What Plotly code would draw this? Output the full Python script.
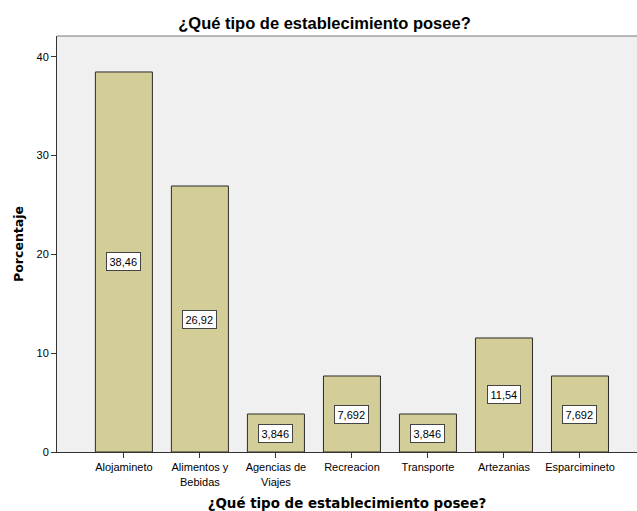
import plotly.graph_objects as go

categories = ["Alojamineto", "Alimentos y<br>Bebidas", "Agencias de<br>Viajes", "Recreacion",
              "Transporte", "Artezanias", "Esparcimineto"]
values = [38.46, 26.92, 3.846, 7.692, 3.846, 11.54, 7.692]
value_labels = ["38,46", "26,92", "3,846", "7,692", "3,846", "11,54", "7,692"]
y_ticks = [0, 10, 20, 30, 40]

x_idx = list(range(len(categories)))

fig = go.Figure()
fig.add_trace(go.Bar(
    x=x_idx, y=values, width=0.75,
    marker=dict(color="#D3CE97", line=dict(color="#2b2b2b", width=1)),
    hoverinfo="skip",
))

for i, (v, lab) in enumerate(zip(values, value_labels)):
    fig.add_annotation(x=i, y=v / 2, text=lab, showarrow=False,
                       font=dict(family="Liberation Sans, Arial", size=11, color="#000"),
                       bgcolor="white", bordercolor="#444", borderwidth=1, borderpad=2.5)

# top frame line (lighter gray)
fig.add_shape(type="line", xref="paper", yref="paper", x0=0, x1=1, y0=1, y1=1,
              line=dict(color="#777", width=1))

fig.update_layout(
    width=637, height=511,
    margin=dict(l=57, r=0, t=36, b=59),
    paper_bgcolor="white",
    plot_bgcolor="#F0F0F0",
    showlegend=False,
    title=dict(text="<b>¿Qué tipo de establecimiento posee?</b>", x=(177 + 472) / 2 / 637,
               xanchor="center", y=1 - 23 / 511, yanchor="middle",
               font=dict(family="Liberation Sans, Arial", size=16.5, color="#000")),
    font=dict(family="Liberation Sans, Arial", size=11, color="#000"),
)

fig.update_xaxes(
    range=[-0.88, 6.75],
    tickmode="array", tickvals=x_idx, ticktext=categories,
    ticks="outside", ticklen=5, tickcolor="#333", tickwidth=1,
    showline=True, linecolor="#333", linewidth=1,
    showgrid=False, zeroline=False,
    tickfont=dict(family="Liberation Sans, Arial", size=11, color="#000"),
    title=dict(text="<b>¿Qué tipo de establecimiento posee?</b>", standoff=12,
               font=dict(family="DejaVu Sans, Verdana", size=13.4, color="#000")),
)
fig.update_yaxes(
    range=[0, 42.1],
    tickmode="array", tickvals=y_ticks, ticktext=[str(t) for t in y_ticks],
    ticks="outside", ticklen=5, tickcolor="#333", tickwidth=1,
    showline=True, linecolor="#333", linewidth=1,
    showgrid=False, zeroline=False,
    tickfont=dict(family="Liberation Sans, Arial", size=11, color="#000"),
    title=dict(text="<b>Porcentaje</b>", standoff=10,
               font=dict(family="DejaVu Sans, Verdana", size=12.5, color="#000")),
)

fig.write_html("out.html", config={"displayModeBar": False},
               post_script="document.body.style.margin='0';")
